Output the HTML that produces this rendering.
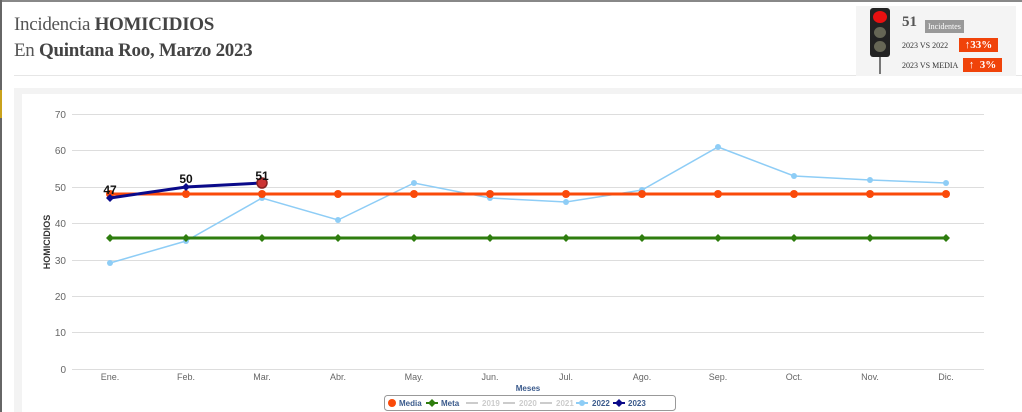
<!DOCTYPE html>
<html><head><meta charset="utf-8"><style>
body{margin:0;width:1022px;height:412px;overflow:hidden;background:#fff;font-family:"Liberation Sans",sans-serif;position:relative}
.t{position:absolute;left:14px;font-family:"Liberation Serif",serif;color:#555;font-size:19px;letter-spacing:-0.3px}
.b{position:absolute;height:14px;background:#f0430a;color:#fff;font:bold 11px 'Liberation Serif',serif;text-align:center;line-height:14px;white-space:nowrap}
</style></head><body>
<div style="position:absolute;left:0;top:0;width:1022px;height:2px;background:#888"></div>
<div style="position:absolute;left:0;top:0;width:2px;height:412px;background:#666"></div>
<div style="position:absolute;left:0;top:90px;width:2px;height:28px;background:#c9a21c"></div>
<div class="t" style="top:14px">Incidencia <b style="color:#444">HOMICIDIOS</b></div>
<div class="t" style="top:40px">En <b style="color:#444">Quintana Roo, Marzo 2023</b></div>
<div style="position:absolute;left:14px;top:75px;width:1008px;height:1px;background:#e6e6e6"></div>
<div style="position:absolute;left:856px;top:6px;width:160px;height:70px;background:#f4f4f4"></div>
<div style="position:absolute;left:870px;top:8px;width:20px;height:49px;background:#222;border-radius:3px"></div>
<div style="position:absolute;left:873px;top:11px;width:14px;height:12px;border-radius:50%;background:#e81010"></div>
<div style="position:absolute;left:874px;top:27px;width:12px;height:11px;border-radius:50%;background:#665"></div>
<div style="position:absolute;left:874px;top:41px;width:12px;height:11px;border-radius:50%;background:#665"></div>
<div style="position:absolute;left:879px;top:57px;width:2px;height:17px;background:#777"></div>
<div style="position:absolute;left:902px;top:14px;font:bold 15px 'Liberation Serif',serif;color:#555">51</div>
<div style="position:absolute;left:925px;top:20px;background:#999;color:#fff;font:8px 'Liberation Serif',serif;padding:2px 3px">Incidentes</div>
<div style="position:absolute;left:902px;top:41px;font:8px 'Liberation Serif',serif;color:#333">2023 VS 2022</div>
<div class="b" style="left:959px;top:38px;width:39px">↑33%</div>
<div style="position:absolute;left:902px;top:61px;font:8px 'Liberation Serif',serif;color:#333">2023 VS MEDIA</div>
<div class="b" style="left:963px;top:58px;width:39px">↑ &nbsp;3%</div>
<div style="position:absolute;left:14px;top:88px;width:1008px;height:324px;background:#f3f3f3"></div>
<div style="position:absolute;left:22px;top:94px;width:1000px;height:318px;background:#fff"></div>
<svg style="position:absolute;left:0;top:0" width="1022" height="412" font-family="Liberation Sans,sans-serif">
<g stroke="#ddd" stroke-width="1">
<line x1="72" x2="984" y1="114.5" y2="114.5"/><line x1="72" x2="984" y1="150.5" y2="150.5"/><line x1="72" x2="984" y1="187.5" y2="187.5"/><line x1="72" x2="984" y1="223.5" y2="223.5"/><line x1="72" x2="984" y1="260.5" y2="260.5"/><line x1="72" x2="984" y1="296.5" y2="296.5"/><line x1="72" x2="984" y1="332.5" y2="332.5"/><line x1="72" x2="984" y1="369.5" y2="369.5"/>
</g>
<g font-size="10" fill="#666" text-anchor="end">
<text x="66" y="118">70</text><text x="66" y="154">60</text><text x="66" y="191">50</text><text x="66" y="227">40</text><text x="66" y="264">30</text><text x="66" y="300">20</text><text x="66" y="336">10</text><text x="66" y="373">0</text>
</g>
<text transform="translate(50,242) rotate(-90)" font-size="9" font-weight="bold" fill="#333" text-anchor="middle">HOMICIDIOS</text>
<g font-size="9" fill="#666" text-anchor="middle">
<text x="110" y="380">Ene.</text><text x="186" y="380">Feb.</text><text x="262" y="380">Mar.</text><text x="338" y="380">Abr.</text><text x="414" y="380">May.</text><text x="490" y="380">Jun.</text><text x="566" y="380">Jul.</text><text x="642" y="380">Ago.</text><text x="718" y="380">Sep.</text><text x="794" y="380">Oct.</text><text x="870" y="380">Nov.</text><text x="946" y="380">Dic.</text>
</g>
<text x="528" y="391" font-size="8" font-weight="bold" fill="#3a5a8c" text-anchor="middle">Meses</text>
<polyline fill="none" stroke="#8ecdf6" stroke-width="1.5" points="110,263 186,241 262,198 338,220 414,183 490,198 566,202 642,190 718,147 794,176 870,180 946,183"/>
<g fill="#8ecdf6"><circle cx="110" cy="263" r="3"/><circle cx="186" cy="241" r="3"/><circle cx="262" cy="198" r="3"/><circle cx="338" cy="220" r="3"/><circle cx="414" cy="183" r="3"/><circle cx="490" cy="198" r="3"/><circle cx="566" cy="202" r="3"/><circle cx="642" cy="190" r="3"/><circle cx="718" cy="147" r="3"/><circle cx="794" cy="176" r="3"/><circle cx="870" cy="180" r="3"/><circle cx="946" cy="183" r="3"/></g>
<line x1="110" x2="946" y1="238" y2="238" stroke="#2e7d0e" stroke-width="3"/>
<g fill="#2e7d0e">
<path d="M110,234l4,4-4,4-4-4z"/><path d="M186,234l4,4-4,4-4-4z"/><path d="M262,234l4,4-4,4-4-4z"/><path d="M338,234l4,4-4,4-4-4z"/><path d="M414,234l4,4-4,4-4-4z"/><path d="M490,234l4,4-4,4-4-4z"/><path d="M566,234l4,4-4,4-4-4z"/><path d="M642,234l4,4-4,4-4-4z"/><path d="M718,234l4,4-4,4-4-4z"/><path d="M794,234l4,4-4,4-4-4z"/><path d="M870,234l4,4-4,4-4-4z"/><path d="M946,234l4,4-4,4-4-4z"/>
</g>
<line x1="110" x2="946" y1="194" y2="194" stroke="#fa4a0a" stroke-width="3"/>
<g fill="#fa4a0a"><circle cx="110" cy="194" r="4"/><circle cx="186" cy="194" r="4"/><circle cx="262" cy="194" r="4"/><circle cx="338" cy="194" r="4"/><circle cx="414" cy="194" r="4"/><circle cx="490" cy="194" r="4"/><circle cx="566" cy="194" r="4"/><circle cx="642" cy="194" r="4"/><circle cx="718" cy="194" r="4"/><circle cx="794" cy="194" r="4"/><circle cx="870" cy="194" r="4"/><circle cx="946" cy="194" r="4"/></g>
<polyline fill="none" stroke="#0a0a8a" stroke-width="3" points="110,198 186,187 262,183"/>
<g fill="#0a0a8a"><path d="M110,194l4,4-4,4-4-4z"/><path d="M186,183l4,4-4,4-4-4z"/></g>
<circle cx="262" cy="183" r="5" fill="#c33" stroke="#822" stroke-width="1.5"/>
<g font-size="12" font-weight="bold" fill="#111" text-anchor="middle"><text x="110" y="194">47</text><text x="186" y="183">50</text><text x="262" y="180">51</text></g>
<rect x="384.5" y="395.5" width="291" height="15" rx="3" fill="#fff" stroke="#999"/>
<g font-size="8" font-weight="bold">
<circle cx="392" cy="403" r="4" fill="#fa4a0a"/><text x="399" y="406" fill="#3a5a8c">Media</text>
<path d="M432,399l4,4-4,4-4-4z" fill="#2e7d0e"/><rect x="426" y="402" width="12" height="2" fill="#2e7d0e"/><text x="441" y="406" fill="#3a5a8c">Meta</text>
<rect x="466" y="402" width="12" height="2" fill="#ccc"/><text x="482" y="406" fill="#ccc">2019</text>
<rect x="503" y="402" width="12" height="2" fill="#ccc"/><text x="519" y="406" fill="#ccc">2020</text>
<rect x="540" y="402" width="12" height="2" fill="#ccc"/><text x="556" y="406" fill="#ccc">2021</text>
<circle cx="582" cy="403" r="3" fill="#8ecdf6"/><rect x="576" y="402" width="12" height="2" fill="#8ecdf6"/><text x="592" y="406" fill="#3a5a8c">2022</text>
<path d="M619,399l4,4-4,4-4-4z" fill="#0a0a8a"/><rect x="613" y="402" width="12" height="2" fill="#0a0a8a"/><text x="628" y="406" fill="#3a5a8c">2023</text>
</g>
</svg>
</body></html>
